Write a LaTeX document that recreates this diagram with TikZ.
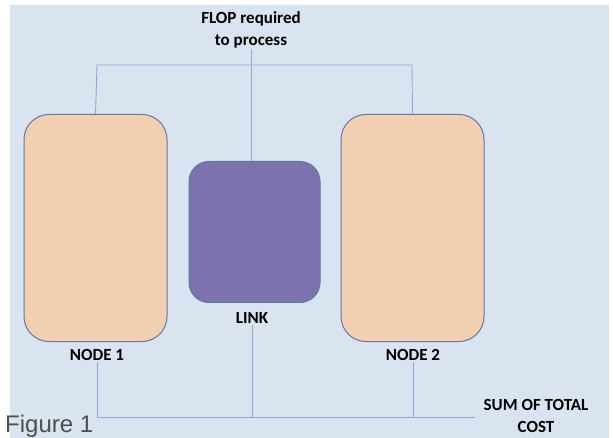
\documentclass[tikz,border=0pt]{standalone}
\usepackage{fontspec}
\setmainfont{Carlito}
\newfontfamily\figfont{Liberation Sans}
\definecolor{bgc}{HTML}{DAE3F0}
\definecolor{peach}{HTML}{F2CFB1}
\definecolor{violet}{HTML}{7B72AE}
\definecolor{edgec}{HTML}{5E7AA6}
\definecolor{linec}{HTML}{8FA8D6}
\definecolor{figgray}{HTML}{4F4F4F}
\tikzset{
  bigbox/.style={draw=edgec, line width=1pt, fill=peach, rounded corners=25pt, minimum width=143pt, minimum height=227pt, inner sep=0pt},
  linkbox/.style={draw=edgec, line width=1pt, fill=violet, rounded corners=20pt, minimum width=131pt, minimum height=141pt, inner sep=0pt},
  lbl/.style={font=\bfseries\fontsize{17}{22}\selectfont, align=center, inner sep=1pt},
  conn/.style={draw=linec, line width=0.9pt}
}
\begin{document}
\begin{tikzpicture}[x=1pt,y=-1pt]
\useasboundingbox (0,0) rectangle (613,438);
\fill[bgc] (10,5) rectangle (609,438);
\node[bigbox] (n1) at (95.5,228) {};
\node[bigbox] (n2) at (412.5,228) {};
\node[linkbox] (link) at (254.5,232) {};
\node[lbl] (flop) at (251,30) {FLOP required\\to process};
\node[lbl] (l1) at (97,355) {NODE 1};
\node[lbl] (l2) at (413,355) {NODE 2};
\node[lbl] (ll) at (252,318) {LINK};
\node[lbl] (sum) at (536,416) {SUM OF TOTAL\\COST};
\node[font=\figfont\fontsize{24}{28}\selectfont, text=figgray, anchor=base west, inner sep=0pt] (fig) at (5,432) {Figure 1};
\coordinate (tl) at (97,65);
\coordinate (tr) at (412,65);
\coordinate (bl) at (97,417);
\coordinate (bc) at (252,417);
\coordinate (br) at (413,417);
\coordinate (be) at (475,417);
\draw[conn] (flop.south) -- (flop.south |- link.north);
\draw[conn] (n1.north) -- (tl) -- (tr) -- (n2.north);
\draw[conn] (l1.south) -- (bl);
\draw[conn] (ll.south) -- (bc);
\draw[conn] (l2.south) -- (br);
\draw[conn] (bl) -- (be);
\end{tikzpicture}
\end{document}
